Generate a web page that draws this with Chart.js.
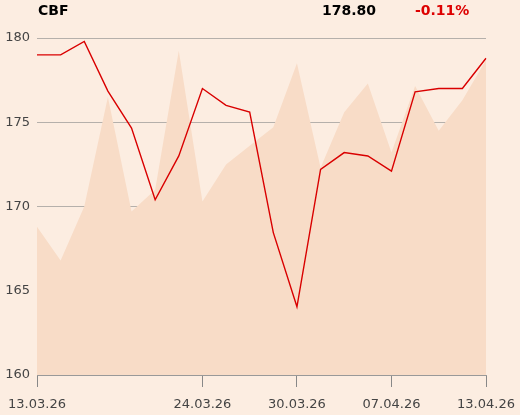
<!DOCTYPE html>
<html>
<head>
<meta charset="utf-8">
<script src="https://cdn.jsdelivr.net/npm/chart.js@4.4.1/dist/chart.umd.min.js"></script>
<style>
    html, body { margin: 0; padding: 0; background: #fcede1; }
    .wrap { position: relative; width: 520px; height: 415px; }
    .hdr { position: absolute; top: 2px; font: bold 14px "DejaVu Sans", sans-serif; line-height: 17px; }
    #chart { position: absolute; left: 0; top: 0; }
</style>
</head>
<body>
<div class="wrap">
    <canvas id="chart" width="520" height="415"></canvas>
    <div class="hdr" style="left:38px;color:#000">CBF</div>
    <div class="hdr" style="left:322px;color:#000">178.80</div>
    <div class="hdr" style="left:415px;color:#dd0000">-0.11%</div>
</div>
<script>
const dates = ['13.03.26', '16.03.26', '17.03.26', '18.03.26', '19.03.26', '20.03.26', '23.03.26',
    '24.03.26', '25.03.26', '26.03.26', '27.03.26', '30.03.26', '31.03.26', '01.04.26', '02.04.26',
    '07.04.26', '08.04.26', '09.04.26', '10.04.26', '13.04.26'];
const prices = [179.0, 179.0, 179.8, 176.85, 174.65, 170.4, 173.0, 177.0, 176.0, 175.6,
    168.45, 164.05, 172.2, 173.2, 173.0, 172.1, 176.8, 177.0, 177.0, 178.8];
const shadow = [168.8, 166.8, 170.0, 176.5, 169.7, 171.0, 179.25, 170.3, 172.5, 173.6,
    174.7, 178.5, 172.3, 175.6, 177.3, 173.2, 177.15, 174.5, 176.3, 178.7];
const shownTicks = [0, 7, 11, 15, 19];
const yTicks = [160, 165, 170, 175, 180];

document.addEventListener('DOMContentLoaded', function() {
    const ctx = document.getElementById('chart');
    new Chart(ctx, {
        type: 'line',
        data: {
            labels: dates,
            datasets: [{
                data: prices,
                borderColor: '#d90000',
                borderWidth: 1.4,
                pointRadius: 0,
                fill: false,
                tension: 0,
                order: 1
            }, {
                data: shadow,
                borderWidth: 0,
                backgroundColor: '#f8dcc7',
                pointRadius: 0,
                fill: 'start',
                tension: 0,
                order: 2
            }]
        },
        options: {
            responsive: false,
            animation: false,
            layout: { padding: { top: 38, right: 34, left: 0, bottom: 0 } },
            plugins: { legend: { display: false }, tooltip: { enabled: false } },
            scales: {
                x: {
                    offset: false,
                    afterFit: (s) => { s.height = 40; s.paddingLeft = 0; s.paddingRight = 0; },
                    border: { color: '#999999', width: 1 },
                    grid: {
                        drawOnChartArea: false,
                        tickLength: 12,
                        color: (c) => shownTicks.includes(c.index) ? '#888888' : 'transparent'
                    },
                    ticks: {
                        autoSkip: false,
                        maxRotation: 0,
                        padding: 10,
                        color: '#444444',
                        font: { family: 'DejaVu Sans', size: 13 },
                        callback: (v, i) => shownTicks.includes(i) ? dates[i] : ''
                    }
                },
                y: {
                    min: 160,
                    max: 180,
                    afterFit: (s) => { s.width = 37; },
                    afterBuildTicks: (s) => { s.ticks = yTicks.map(v => ({ value: v })); },
                    border: { display: false },
                    grid: { drawTicks: false, color: (c) => c.tick && c.tick.value === 160 ? 'transparent' : '#b5b0ab' },
                    ticks: {
                        padding: 7,
                        color: '#444444',
                        font: { family: 'DejaVu Sans', size: 13 }
                    }
                }
            }
        }
    });
});
</script>
</body>
</html>
